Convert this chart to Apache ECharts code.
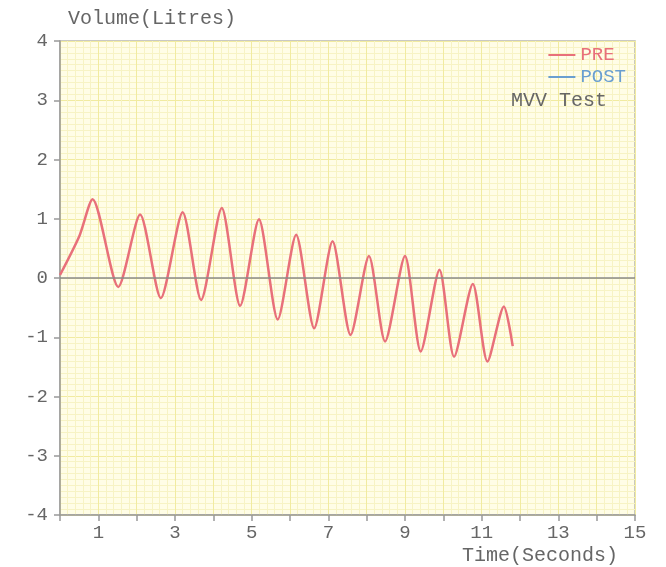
<!DOCTYPE html>
<html><head><meta charset="utf-8">
<script src="https://cdn.jsdelivr.net/npm/echarts@6/dist/echarts.min.js"></script>
<style>html,body{margin:0;padding:0;background:#fff}#c{width:666px;height:567px}</style>
</head><body><div id="c"></div>
<script>
var timeSec = [0, 0.5, 0.85, 1.52, 2.09, 2.63, 3.20, 3.68, 4.22, 4.70, 5.19, 5.68, 6.16, 6.63, 7.11, 7.58, 8.06, 8.48, 9.00, 9.41, 9.90, 10.28, 10.77, 11.15, 11.58, 11.81];
var preVolume = [0.05, 0.70, 1.33, -0.15, 1.07, -0.34, 1.11, -0.37, 1.18, -0.47, 0.99, -0.70, 0.73, -0.85, 0.62, -0.96, 0.37, -1.07, 0.37, -1.24, 0.14, -1.33, -0.10, -1.41, -0.48, -1.15];
var postVolume = [];
var xTickLabels = ['1','3','5','7','9','11','13','15'];
var yTickLabels = ['-4','-3','-2','-1','0','1','2','3','4'];

var font = 'Liberation Mono';
var txt = '#666';
var preData = timeSec.map(function(t,i){return [t, preVolume[i]];});
var chart = echarts.init(document.getElementById('c'));
chart.setOption({
  animation:false,
  backgroundColor:'#fff',
  title:[
    {text:'Volume(Litres)', left:63, top:4, textStyle:{fontFamily:font, fontSize:20, fontWeight:'normal', color:txt}},
    {text:'MVV Test', right:54, top:86, textStyle:{fontFamily:font, fontSize:20, fontWeight:'normal', color:txt}},
    {text:'Time(Seconds)', left:457, top:541, textStyle:{fontFamily:font, fontSize:20, fontWeight:'normal', color:txt}}
  ],
  legend:{
    orient:'vertical', right:40, top:45, itemGap:2, itemWidth:27, itemHeight:2, align:'left', icon:'rect', padding:0,
    data:[
      {name:'PRE', textStyle:{color:'#e8707a'}},
      {name:'POST', textStyle:{color:'#6a9fd0'}}
    ],
    textStyle:{fontFamily:font, fontSize:19, lineHeight:20}
  },
  grid:{left:60, right:31, top:41, bottom:52, show:true, backgroundColor:'#fffde6', borderColor:'#b8b8b0', borderWidth:1.5},
  xAxis:{
    type:'value', min:0, max:15, interval:1,
    axisLine:{onZero:false, lineStyle:{color:'#999', width:1.5}},
    axisTick:{show:true, length:6, lineStyle:{color:'#999', width:1.5}},
    axisLabel:{fontFamily:font, fontSize:19, color:txt, margin:8,
      formatter:function(v){var s=String(v); return xTickLabels.indexOf(s)>=0 ? s : '';}},
    splitLine:{show:true, lineStyle:{color:'#f1eba0', width:1}},
    minorTick:{show:true, splitNumber:5, length:0},
    minorSplitLine:{show:true, lineStyle:{color:'#f7f3c4', width:1}}
  },
  yAxis:{
    type:'value', min:-4, max:4, interval:1,
    axisLine:{show:true, lineStyle:{color:'#999', width:1.5}},
    axisTick:{show:true, length:6, lineStyle:{color:'#999', width:1.5}},
    axisLabel:{fontFamily:font, fontSize:19, color:txt, margin:12,
      formatter:function(v){var s=String(v); return yTickLabels.indexOf(s)>=0 ? s : '';}},
    splitLine:{show:true, lineStyle:{color:'#f1eba0', width:1}},
    minorTick:{show:true, splitNumber:10, length:0},
    minorSplitLine:{show:true, lineStyle:{color:'#f7f3c4', width:1}}
  },
  series:[
    {name:'PRE', type:'line', data:preData, smooth:0.25, symbol:'none', color:'#e8707a',
     lineStyle:{width:2.5, color:'#e8707a'},
     markLine:{silent:true, symbol:'none', label:{show:false}, lineStyle:{color:'#8a8a8a', width:1.5, type:'solid'}, data:[{yAxis:0}]}},
    {name:'POST', type:'line', data:postVolume, symbol:'none', color:'#6a9fd0', lineStyle:{width:1.5, color:'#6a9fd0'}}
  ]
});
</script></body></html>
